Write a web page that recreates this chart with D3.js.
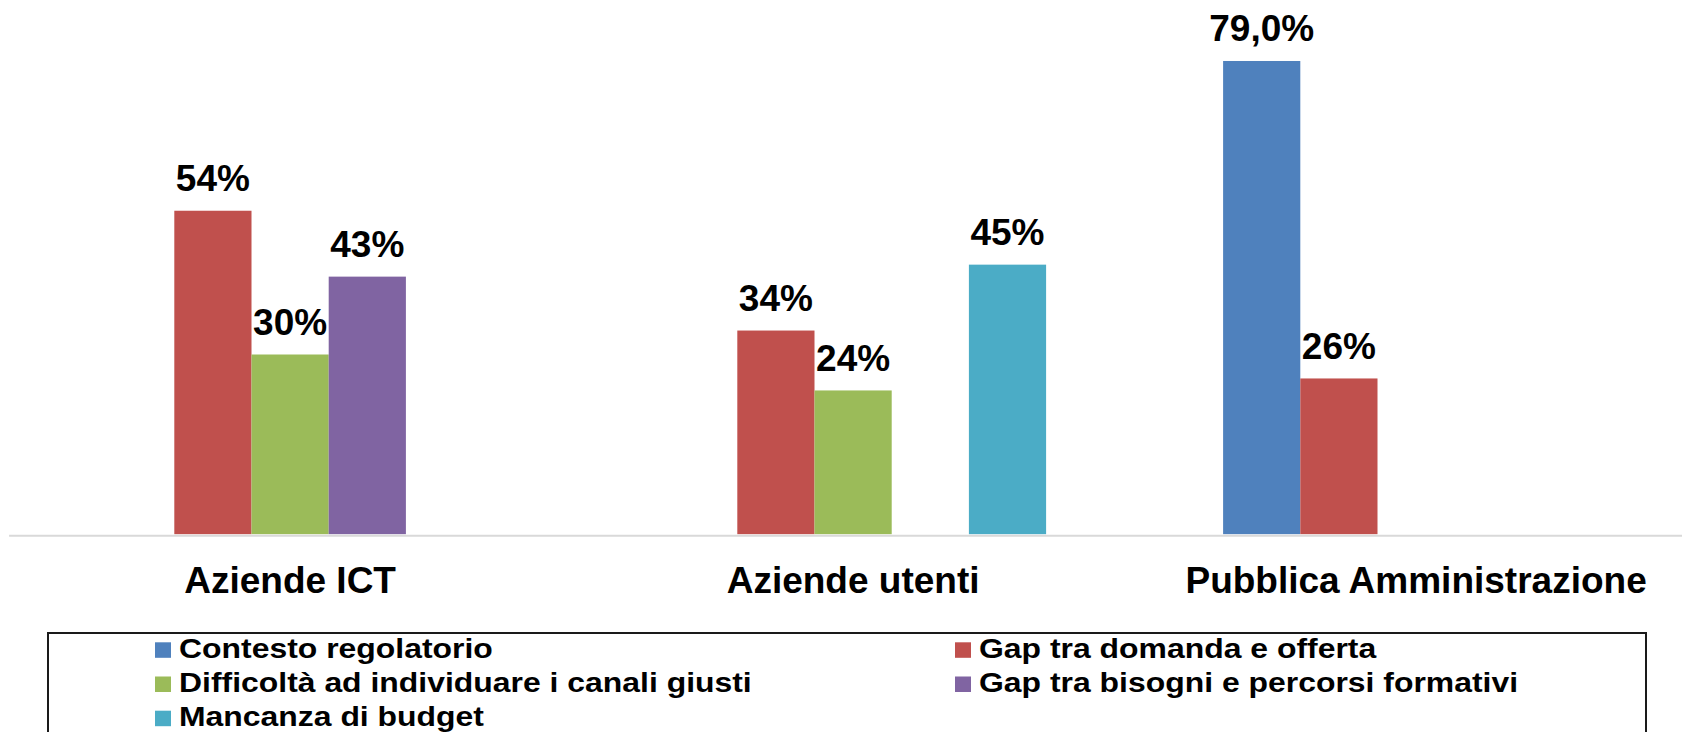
<!doctype html>
<html>
  <head>
    <meta charset="utf-8">
    <title>Ostacoli</title>
    <style type="text/css">
		body{
			margin: 0px;
			background: #ffffff;
		}
		#chart{
			display: block;
		}
		text{
			font-family: "Liberation Sans", Arial, sans-serif;
			font-weight: bold;
			fill: #000000;
		}
    </style>
    <script src="https://d3js.org/d3.v7.min.js"></script>
  </head>
  <body>
	<svg id="chart" width="1682" height="732"></svg>
	<script type="text/javascript">
		// dati
		var categories = ["Aziende ICT", "Aziende utenti", "Pubblica Amministrazione"];
		var seriesNames = ["Contesto regolatorio", "Gap tra domanda e offerta", "Difficoltà ad individuare i canali giusti", "Gap tra bisogni e percorsi formativi", "Mancanza di budget"];
		var seriesColors = ["#4F81BD", "#C0504D", "#9BBB59", "#8064A2", "#4BACC6"];
		var contesto = [null, null, 0.79];
		var gapDomanda = [0.54, 0.34, 0.26];
		var difficolta = [0.30, 0.24, null];
		var gapBisogni = [0.43, null, null];
		var budget = [null, 0.45, null];
		var contestoLabels = ["", "", "79,0%"];
		var gapDomandaLabels = ["54%", "34%", "26%"];
		var difficoltaLabels = ["30%", "24%", ""];
		var gapBisogniLabels = ["43%", "", ""];
		var budgetLabels = ["", "45%", ""];

		var seriesValues = [contesto, gapDomanda, difficolta, gapBisogni, budget];
		var seriesLabels = [contestoLabels, gapDomandaLabels, difficoltaLabels, gapBisogniLabels, budgetLabels];

		var svg = d3.select("#chart");

		// scale
		var scaleX = d3.scaleBand()
			.domain(categories)
			.range([8.6, 1697.6])
			.padding(0);
		var scaleSeries = d3.scaleBand()
			.domain(d3.range(seriesNames.length))
			.range([88.5, 474.5])
			.padding(0);
		var scaleY = d3.scaleLinear()
			.domain([0, 0.9])
			.range([534.2, -4.9]);

		// barre
		var bars = [];
		for(var s = 0; s < seriesNames.length; s++){
			for(var c = 0; c < categories.length; c++){
				if(seriesValues[s][c] == null) continue;
				bars.push({s: s, c: c, v: seriesValues[s][c], label: seriesLabels[s][c]});
			}
		}

		var graph = svg.append("g");

		graph.selectAll("rect.bar")
			.data(bars)
			.enter().append("rect")
			.attr("class", "bar")
			.attr("x", function(d){ return scaleX(categories[d.c]) + scaleSeries(d.s); })
			.attr("y", function(d){ return scaleY(d.v); })
			.attr("width", scaleSeries.bandwidth())
			.attr("height", function(d){ return scaleY(0) - scaleY(d.v); })
			.attr("fill", function(d){ return seriesColors[d.s]; });

		// asse X
		var axisX = d3.axisBottom(scaleX).tickSize(0);
		var axisG = graph.append("g")
			.attr("transform", "translate(0," + (scaleY(0) + 1) + ")")
			.call(axisX);
		axisG.select(".domain")
			.attr("stroke", "#D9D9D9")
			.attr("stroke-width", 2);
		axisG.selectAll("text")
			.attr("y", 58)
			.attr("dy", 0)
			.style("font-size", "37px")
			.style("font-family", "'Liberation Sans', Arial, sans-serif")
			.style("font-weight", "bold")
			.attr("fill", "#000000");

		// etichette valori
		graph.selectAll("text.val")
			.data(bars)
			.enter().append("text")
			.attr("class", "val")
			.attr("x", function(d){ return scaleX(categories[d.c]) + scaleSeries(d.s) + scaleSeries.bandwidth() / 2; })
			.attr("y", function(d){ return scaleY(d.v) - 19.5; })
			.attr("text-anchor", "middle")
			.style("font-size", "37px")
			.text(function(d){ return d.label; });

		// legenda
		var legend = svg.append("g");
		legend.append("rect")
			.attr("x", 48)
			.attr("y", 633)
			.attr("width", 1598)
			.attr("height", 140)
			.attr("fill", "none")
			.attr("stroke", "#1a1a1a")
			.attr("stroke-width", 2);

		var legendCols = [155, 955];
		var legendRowY = 642.3;
		var legendRowH = 34.2;

		var items = legend.selectAll("g.item")
			.data(seriesNames)
			.enter().append("g")
			.attr("class", "item")
			.attr("transform", function(d, i){
				return "translate(" + legendCols[i % 2] + "," + (legendRowY + Math.floor(i / 2) * legendRowH) + ")";
			});
		items.append("rect")
			.attr("width", 16)
			.attr("height", 15.5)
			.attr("fill", function(d, i){ return seriesColors[i]; });
		items.append("text")
			.attr("transform", "translate(24,15.5) scale(1.12,1)")
			.style("font-size", "28.5px")
			.text(function(d){ return d; });
	</script>
  </body>
</html>
